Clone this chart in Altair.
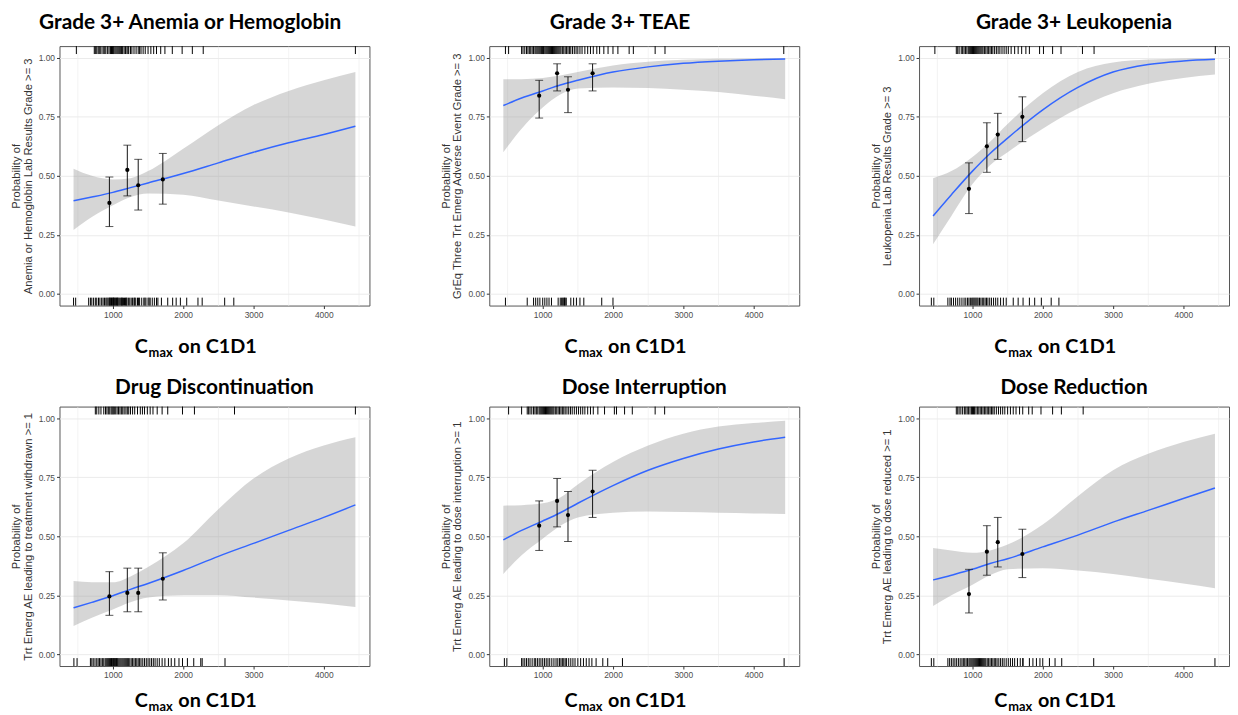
import altair as alt
import pandas as pd

# ---------------- data ----------------
CURVE_X = [440, 700, 1000, 1250, 1500, 2000, 2500, 3000, 3500, 4000, 4450]
BIN_X = [950, 1205, 1360, 1710]

TITLES = ["Grade 3+ Anemia or Hemoglobin", "Grade 3+ TEAE", "Grade 3+ Leukopenia",
          "Drug Discontinuation", "Dose Interruption", "Dose Reduction"]
Y_TITLES = ["Anemia or Hemoglobin Lab Results Grade >= 3",
            "GrEq Three Trt Emerg Adverse Event Grade >= 3",
            "Leukopenia Lab Results Grade >= 3",
            "Trt Emerg AE leading to treatment withdrawn >= 1",
            "Trt Emerg AE leading to dose interruption >= 1",
            "Trt Emerg AE leading to dose reduced >= 1"]

FIT1 = [0.394, 0.41, 0.43, 0.45, 0.47, 0.51, 0.555, 0.60, 0.64, 0.675, 0.71]
LO1 = [0.27, 0.325, 0.375, 0.41, 0.425, 0.42, 0.395, 0.37, 0.345, 0.315, 0.285]
HI1 = [0.53, 0.50, 0.485, 0.49, 0.52, 0.615, 0.715, 0.80, 0.86, 0.905, 0.94]

FIT2 = [0.798, 0.83, 0.86, 0.885, 0.905, 0.94, 0.962, 0.977, 0.986, 0.992, 0.995]
LO2 = [0.60, 0.70, 0.79, 0.845, 0.87, 0.875, 0.872, 0.865, 0.855, 0.84, 0.825]
HI2 = [0.91, 0.91, 0.915, 0.925, 0.94, 0.968, 0.984, 0.992, 0.996, 0.998, 0.999]

FIT3 = [0.33, 0.42, 0.52, 0.595, 0.66, 0.78, 0.875, 0.94, 0.972, 0.987, 0.994]
LO3 = [0.21, 0.33, 0.465, 0.545, 0.60, 0.70, 0.785, 0.85, 0.89, 0.915, 0.93]
HI3 = [0.49, 0.52, 0.58, 0.645, 0.72, 0.85, 0.94, 0.98, 0.993, 0.998, 0.999]

FIT4 = [0.197, 0.22, 0.248, 0.275, 0.30, 0.355, 0.415, 0.47, 0.525, 0.58, 0.633]
LO4 = [0.12, 0.155, 0.19, 0.22, 0.24, 0.25, 0.25, 0.24, 0.228, 0.215, 0.20]
HI4 = [0.31, 0.305, 0.305, 0.33, 0.37, 0.47, 0.615, 0.745, 0.83, 0.885, 0.92]

FIT5 = [0.485, 0.525, 0.565, 0.60, 0.64, 0.715, 0.78, 0.83, 0.87, 0.90, 0.92]
LO5 = [0.34, 0.42, 0.49, 0.545, 0.58, 0.60, 0.605, 0.603, 0.60, 0.597, 0.595]
HI5 = [0.63, 0.632, 0.64, 0.665, 0.72, 0.815, 0.885, 0.935, 0.965, 0.98, 0.99]

FIT6 = [0.315, 0.335, 0.36, 0.385, 0.405, 0.455, 0.505, 0.56, 0.61, 0.66, 0.705]
LO6 = [0.205, 0.25, 0.295, 0.335, 0.36, 0.365, 0.355, 0.34, 0.32, 0.30, 0.28]
HI6 = [0.45, 0.44, 0.43, 0.44, 0.465, 0.55, 0.67, 0.78, 0.85, 0.90, 0.935]

P1 = [0.385, 0.525, 0.46, 0.485]; PLO1 = [0.285, 0.415, 0.355, 0.38]; PHI1 = [0.495, 0.63, 0.57, 0.595]
P2 = [0.84, 0.935, 0.865, 0.935]; PLO2 = [0.745, 0.86, 0.768, 0.86]; PHI2 = [0.905, 0.975, 0.92, 0.975]
P3 = [0.445, 0.625, 0.675, 0.75]; PLO3 = [0.34, 0.515, 0.57, 0.645]; PHI3 = [0.555, 0.725, 0.765, 0.835]
P4 = [0.245, 0.26, 0.26, 0.32]; PLO4 = [0.165, 0.18, 0.18, 0.23]; PHI4 = [0.35, 0.365, 0.365, 0.43]
P5 = [0.545, 0.65, 0.59, 0.69]; PLO5 = [0.44, 0.54, 0.478, 0.58]; PHI5 = [0.65, 0.745, 0.69, 0.78]
P6 = [0.255, 0.435, 0.475, 0.425]; PLO6 = [0.175, 0.335, 0.37, 0.325]; PHI6 = [0.36, 0.545, 0.58, 0.53]

TOP1 = [480, 735, 750, 770, 790, 805, 820, 845, 870, 885, 900, 925, 945, 965, 980, 995, 1005, 1015, 1030,
        1045, 1060, 1075, 1090, 1105, 1120, 1130, 1140, 1160, 1180, 1200, 1215, 1225, 1250, 1270, 1300,
        1330, 1360, 1380, 1400, 1430, 1460, 1500, 1540, 1580, 1620, 1680, 1740, 1845, 1985, 2130, 2285,
        4450]
BOT1 = [440, 470, 655, 680, 700, 725, 750, 770, 795, 815, 840, 860, 880, 900, 915, 930, 945, 955, 960,
        970, 980, 990, 1000, 1005, 1010, 1020, 1030, 1040, 1050, 1060, 1068, 1075, 1090, 1105, 1120, 1128,
        1135, 1150, 1165, 1180, 1190, 1200, 1220, 1240, 1260, 1280, 1300, 1310, 1325, 1350, 1365, 1380,
        1410, 1440, 1455, 1470, 1500, 1515, 1530, 1560, 1590, 1620, 1640, 1690, 1780, 1850, 1900, 1960,
        2050, 2210, 2270, 2590, 2720]
TOP2 = [470, 515, 700, 720, 745, 770, 790, 810, 830, 850, 870, 890, 905, 920, 935, 950, 965, 980, 990,
        1000, 1010, 1020, 1035, 1050, 1065, 1080, 1095, 1110, 1125, 1140, 1155, 1170, 1185, 1200, 1215,
        1230, 1245, 1260, 1280, 1300, 1320, 1340, 1360, 1380, 1400, 1425, 1450, 1475, 1500, 1530, 1560,
        1600, 1640, 1680, 1720, 1770, 1810, 1870, 1930, 2000, 2070, 2230, 2290, 2600, 2740, 4430]
BOT2 = [470, 780, 870, 900, 930, 960, 1000, 1030, 1060, 1090, 1125, 1220, 1250, 1270, 1285, 1300, 1310,
        1320, 1335, 1400, 1440, 1480, 1530, 1585, 1840, 2000]
TOP3 = [465, 770, 790, 810, 840, 860, 880, 900, 920, 940, 955, 970, 985, 1000, 1015, 1030, 1045, 1060,
        1075, 1090, 1105, 1120, 1135, 1150, 1170, 1190, 1210, 1230, 1250, 1270, 1290, 1315, 1340, 1365,
        1390, 1420, 1450, 1480, 1510, 1550, 1600, 1650, 1700, 1760, 1810, 1955, 2010, 2140, 2260, 2565,
        2730, 4455]
BOT3 = [415, 450, 650, 680, 700, 730, 760, 790, 820, 850, 880, 905, 930, 950, 970, 990, 1005, 1020, 1035,
        1050, 1065, 1080, 1100, 1120, 1140, 1160, 1180, 1200, 1220, 1245, 1270, 1300, 1330, 1360, 1400,
        1440, 1480, 1580, 1650, 1720, 1810, 1885, 1980, 2120, 2230]
TOP4 = [750, 770, 800, 830, 870, 895, 915, 935, 955, 975, 990, 1005, 1020, 1040, 1060, 1080, 1100, 1120,
        1140, 1160, 1185, 1205, 1225, 1250, 1280, 1310, 1350, 1390, 1420, 1450, 1490, 1530, 1570, 1630,
        1700, 1780, 1990, 2160, 2730, 4450]
BOT4 = [445, 490, 680, 700, 720, 745, 770, 790, 810, 830, 850, 870, 890, 905, 920, 935, 950, 965, 980,
        990, 1000, 1010, 1020, 1030, 1040, 1050, 1060, 1070, 1085, 1100, 1115, 1130, 1145, 1160, 1175,
        1190, 1205, 1220, 1240, 1260, 1280, 1300, 1320, 1340, 1360, 1380, 1400, 1425, 1450, 1475, 1500,
        1525, 1550, 1575, 1600, 1630, 1660, 1700, 1740, 1790, 1830, 1880, 1940, 1990, 2060, 2150, 2250,
        2270, 2595]
TOP5 = [515, 700, 780, 800, 820, 845, 870, 890, 910, 930, 950, 965, 980, 995, 1010, 1025, 1040, 1055,
        1070, 1085, 1100, 1115, 1130, 1145, 1160, 1180, 1200, 1220, 1240, 1260, 1280, 1300, 1320, 1345,
        1370, 1395, 1420, 1450, 1480, 1510, 1540, 1570, 1600, 1640, 1680, 1720, 1785, 1880, 2020, 2050,
        2165, 2275, 2600, 2735]
BOT5 = [455, 490, 700, 720, 745, 770, 795, 820, 850, 880, 900, 925, 950, 975, 1000, 1025, 1050, 1075,
        1100, 1130, 1160, 1190, 1215, 1240, 1260, 1280, 1300, 1320, 1340, 1370, 1400, 1430, 1460, 1500,
        1540, 1580, 1620, 1660, 1700, 1760, 1855, 1925, 2135, 4435]
TOP6 = [770, 790, 810, 835, 860, 885, 905, 925, 945, 965, 985, 1000, 1015, 1030, 1050, 1070, 1090, 1110,
        1130, 1150, 1170, 1190, 1210, 1230, 1250, 1270, 1290, 1310, 1340, 1370, 1400, 1430, 1460, 1500,
        1540, 1580, 1620, 1670, 1715, 1800, 1850, 1975, 2140, 2265, 2575]
BOT6 = [415, 450, 650, 675, 700, 725, 750, 775, 800, 825, 850, 870, 890, 910, 930, 950, 965, 980, 995,
        1010, 1025, 1040, 1055, 1070, 1085, 1100, 1115, 1130, 1145, 1160, 1175, 1190, 1210, 1230, 1250,
        1270, 1290, 1310, 1330, 1350, 1375, 1400, 1425, 1450, 1480, 1510, 1540, 1570, 1600, 1640, 1680,
        1715, 1720, 1810, 1860, 1910, 1960, 2000, 2095, 2175, 2270, 2725, 4450]

X_MAJOR = [1000, 2000, 3000, 4000]
X_MINOR = [500, 1500, 2500, 3500, 4500]
Y_TICKS = [0, 0.125, 0.25, 0.375, 0.5, 0.625, 0.75, 0.875, 1.0]
X_DOMAIN = [240, 4650]
Y_DOMAIN = [-0.05, 1.05]

# ---------------- styling ----------------
W, H = 313, 262
AX_FONT = "Liberation Sans"
BIG_FONT = "Lato"

PANELS = [
    (TITLES[0], Y_TITLES[0], FIT1, LO1, HI1, P1, PLO1, PHI1, TOP1, BOT1),
    (TITLES[1], Y_TITLES[1], FIT2, LO2, HI2, P2, PLO2, PHI2, TOP2, BOT2),
    (TITLES[2], Y_TITLES[2], FIT3, LO3, HI3, P3, PLO3, PHI3, TOP3, BOT3),
    (TITLES[3], Y_TITLES[3], FIT4, LO4, HI4, P4, PLO4, PHI4, TOP4, BOT4),
    (TITLES[4], Y_TITLES[4], FIT5, LO5, HI5, P5, PLO5, PHI5, TOP5, BOT5),
    (TITLES[5], Y_TITLES[5], FIT6, LO6, HI6, P6, PLO6, PHI6, TOP6, BOT6),
]

YTEST = "abs(datum.value * 4 - round(datum.value * 4)) < 0.001"


def panel(spec, title_offset, frame, label_dy):
    title, ytitle, fit, lo, hi, pm, plo, phi, top, bot = spec
    ytit = ["Probability of", ytitle]
    curve = pd.DataFrame({"x": CURVE_X, "fit": fit, "lo": lo, "hi": hi})
    pts = pd.DataFrame({"x": BIN_X, "p": pm, "lo": plo, "hi": phi})
    rug_top = pd.DataFrame({"x": top})
    rug_bot = pd.DataFrame({"x": bot})

    xs = alt.Scale(domain=X_DOMAIN, nice=False, zero=False)
    ys = alt.Scale(domain=Y_DOMAIN, nice=False, zero=False)
    xaxis = alt.Axis(values=X_MAJOR, format="d", title=None, orient="bottom", gridWidth=1)
    xminor = alt.Axis(values=X_MINOR, title=None, orient="top", labels=False, ticks=False,
                      domain=False, grid=True, gridWidth=0.6, minExtent=0, maxExtent=0)
    yaxis = alt.Axis(
        values=Y_TICKS, title=ytit, labelOverlap=False,
        labelExpr=f"{YTEST} ? format(datum.value, '.2f') : ''",
        tickOpacity={"condition": {"test": YTEST, "value": 1}, "value": 0},
        gridWidth={"condition": {"test": YTEST, "value": 1}, "value": 0.6},
    )
    nox = lambda: alt.X("x:Q", axis=None)

    minor = alt.Chart(curve).mark_rule(opacity=0).encode(x=alt.X("x:Q", scale=xs, axis=xminor))
    band = alt.Chart(curve).mark_area(color="#999999", opacity=0.4, interpolate="monotone").encode(
        x=alt.X("x:Q", scale=xs, axis=xaxis),
        y=alt.Y("lo:Q", scale=ys, axis=yaxis),
        y2="hi:Q",
    )
    line = alt.Chart(curve).mark_line(color="#3366FF", strokeWidth=1.5, interpolate="monotone").encode(
        x=nox(), y=alt.Y("fit:Q", title=ytit)
    )
    err = alt.Chart(pts).mark_errorbar(ticks=True, size=8, thickness=1, color="#111111").encode(
        x=nox(), y=alt.Y("lo:Q", title=ytit), y2="hi:Q"
    )
    dots = alt.Chart(pts).mark_circle(size=18, color="black", opacity=1).encode(
        x=nox(), y=alt.Y("p:Q", title=ytit)
    )
    rt = alt.Chart(rug_top).mark_rule(color="black", strokeWidth=1).encode(
        x=nox(), y=alt.value(0), y2=alt.value(8)
    )
    rb = alt.Chart(rug_bot).mark_rule(color="black", strokeWidth=1).encode(
        x=nox(), y=alt.value(H - 8), y2=alt.value(H)
    )
    lab_c = alt.Chart(pd.DataFrame({"t": ["C"]})).mark_text(
        align="left", baseline="alphabetic", font=BIG_FONT, fontWeight="bold", fontSize=20, color="black"
    ).encode(text="t:N", x=alt.value(76), y=alt.value(H + label_dy))
    lab_max = alt.Chart(pd.DataFrame({"t": ["max"]})).mark_text(
        align="left", baseline="alphabetic", font=BIG_FONT, fontWeight="bold", fontSize=13, color="black"
    ).encode(text="t:N", x=alt.value(90), y=alt.value(H + label_dy + 4))
    lab_rest = alt.Chart(pd.DataFrame({"t": ["on C1D1"]})).mark_text(
        align="left", baseline="alphabetic", font=BIG_FONT, fontWeight="bold", fontSize=20, color="black"
    ).encode(text="t:N", x=alt.value(120), y=alt.value(H + label_dy))

    return alt.layer(minor, band, line, err, dots, rt, rb, lab_c, lab_max, lab_rest).resolve_axis(
        x="independent"
    ).properties(
        width=W, height=H,
        title=alt.Title(title, font=BIG_FONT, fontSize=21, fontWeight="bold", color="black",
                        anchor="middle", offset=title_offset, frame=frame),
    )


row1 = alt.hconcat(
    panel(PANELS[0], 13, "bounds", 48),
    panel(PANELS[1], 13, "bounds", 48),
    panel(PANELS[2], 13, "group", 48),
    spacing=70,
)
row2 = alt.hconcat(*[panel(p, 8, "group", 41) for p in PANELS[3:]], spacing=70)

chart = alt.vconcat(row1, row2, spacing=16).properties(
    padding={"left": 2, "top": 0, "right": 0, "bottom": 0}
).configure_view(
    stroke="#555555", strokeWidth=1
).configure_axis(
    domain=False, tickColor="#333333", tickSize=3, labelPadding=2,
    labelFont=AX_FONT, labelFontSize=8.5, labelColor="#4d4d4d",
    gridColor="#ebebeb",
    titleFont=AX_FONT, titleFontSize=11.3, titleLineHeight=11.5, titleColor="#333333",
    titleFontWeight="normal", titlePadding=5,
).configure_title(fontWeight="bold")

chart.save("out.html", embed_options={"renderer": "svg", "actions": False})
